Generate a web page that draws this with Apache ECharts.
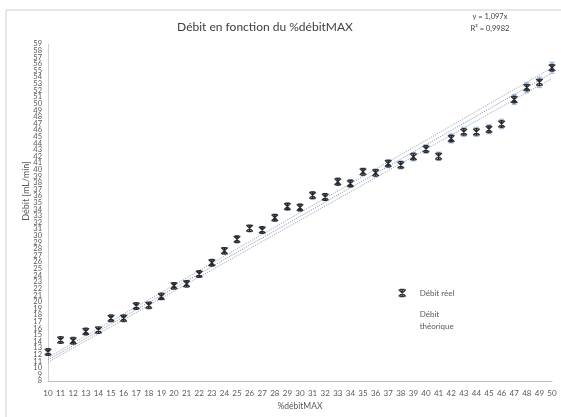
<!DOCTYPE html>
<html>
<head>
<meta charset="utf-8">
<script src="https://cdn.jsdelivr.net/npm/echarts@6/dist/echarts.min.js"></script>
<style>
  html, body { margin: 0; padding: 0; background: #fff; }
  #chart { width: 561px; height: 417px; }
</style>
</head>
<body>
<div id="chart"></div>
<script>
// %débitMAX settings (x axis categories)
const categories = ['10','11','12','13','14','15','16','17','18','19','20','21','22','23','24','25','26','27','28','29','30',
  '31','32','33','34','35','36','37','38','39','40','41','42','43','44','45','46','47','48','49','50'];

// Measured flow (mL/min)
const debitReel = [12.4, 14.2, 14.1, 15.5, 15.7, 17.5, 17.5, 19.35, 19.45, 20.8, 22.4,
  22.7, 24.2, 25.9, 27.7, 29.45, 31.1, 30.85, 32.7, 34.4, 34.25,
  36.1, 35.85, 38.15, 37.9, 39.65, 39.5, 40.9, 40.7, 41.95, 43.1,
  42.0, 44.7, 45.7, 45.7, 46.1, 46.9, 50.6, 52.4, 53.2, 55.4];

// Error bar size, percent of value
const errorPct = 1.5;

// Theoretical flow line and its two bounding lines, values at first and last category
const theorique = [11.2, 54.6];
const theoriqueHaut = [11.55, 55.4];
const theoriqueBas = [10.85, 53.8];

const yTicks = { min: 8, max: 59, interval: 1 };
const equationLines = ['y = 1,097x', 'R² = 0,9982'];

const FONT = 'Lato, "Open Sans", sans-serif';
const chart = echarts.init(document.getElementById('chart'), null, { renderer: 'canvas' });

const lastIdx = categories.length - 1;
const endPoints = arr => [[0, arr[0]], [lastIdx, arr[1]]];

// Excel-style star marker: X crossed by a vertical stroke
const starPath = 'path://M0,0L8,8M8,0L0,8M4,0L4,8M1.5,0L6.5,0M1.5,8L6.5,8';

const yLabelStyle = { fontSize: 7.5, color: '#595959', margin: 6, fontFamily: FONT };

const option = {
  backgroundColor: '#ffffff',
  animation: false,
  textStyle: { fontFamily: FONT },
  graphic: [
    { type: 'rect', shape: { x: 6, y: 10, width: 620, height: 460 },
      style: { fill: 'none', stroke: '#c9ced6', lineWidth: 1 }, silent: true },
    { type: 'text', x: 265, y: 27,
      style: { text: 'Débit en fonction du %débitMAX', font: '12px ' + FONT, fill: '#404040',
               align: 'center', verticalAlign: 'middle' } },
    { type: 'text', x: 490, y: 11,
      style: { text: equationLines.join('\n'), font: '7.5px ' + FONT, fill: '#404040',
               align: 'center', lineHeight: 12 } },
    { type: 'text', x: 26, y: 191, rotation: Math.PI / 2,
      style: { text: 'Débit [mL/min]', font: '9px ' + FONT, fill: '#595959',
               align: 'center', verticalAlign: 'middle' } }
  ],
  legend: {
    orient: 'vertical',
    left: 393, top: 282,
    itemWidth: 7, itemHeight: 7, itemGap: 9,
    textStyle: { fontSize: 8, color: '#595959', fontFamily: FONT, lineHeight: 12, padding: [0, 0, 0, 9] },
    formatter: name => name === 'Débit théorique' ? 'Débit\nthéorique' : name,
    data: [
      { name: 'Débit réel', icon: starPath,
        itemStyle: { color: 'transparent', borderColor: '#000', borderWidth: 1.4 } },
      { name: 'Débit théorique', icon: 'rect', itemStyle: { opacity: 0 } }
    ]
  },
  grid: { left: 48, right: 9, top: 44, bottom: 36, containLabel: false },
  xAxis: {
    type: 'category',
    data: categories,
    boundaryGap: false,
    name: '%débitMAX',
    nameLocation: 'middle',
    nameGap: 20,
    nameTextStyle: { fontSize: 8.5, color: '#595959', fontFamily: FONT },
    axisLine: { lineStyle: { color: '#bfbfbf', width: 1 } },
    axisTick: { show: false },
    axisLabel: { interval: 0, fontSize: 8, color: '#595959', margin: 8, fontFamily: FONT },
    splitLine: { show: false }
  },
  yAxis: [
    {
      // main flow axis: every integer between the bounds
      type: 'value',
      min: yTicks.min, max: yTicks.max, interval: yTicks.interval,
      axisLine: { show: true, lineStyle: { color: '#d0d0d0', width: 1 } },
      axisTick: { show: false },
      axisLabel: Object.assign({ showMinLabel: false, showMaxLabel: false }, yLabelStyle),
      splitLine: { show: false }
    },
    {
      // same scale, carries only the end labels so the neighbouring ones stay visible
      type: 'value', position: 'left',
      min: yTicks.min, max: yTicks.max, interval: yTicks.interval,
      axisLine: { show: false },
      axisTick: { show: false },
      axisLabel: Object.assign({
        showMinLabel: true, showMaxLabel: true,
        formatter: v => (v === yTicks.min || v === yTicks.max) ? String(v) : ''
      }, yLabelStyle),
      splitLine: { show: false }
    }
  ],
  series: [
    {
      name: 'Débit théorique haut', type: 'line', data: endPoints(theoriqueHaut),
      symbol: 'none', silent: true, z: 2,
      lineStyle: { color: '#a6a6a6', width: 1, type: [1.2, 1.2] }
    },
    {
      name: 'Débit théorique bas', type: 'line', data: endPoints(theoriqueBas),
      symbol: 'none', silent: true, z: 2,
      lineStyle: { color: '#a6a6a6', width: 1, type: [1.2, 1.2] }
    },
    {
      name: 'Débit théorique', type: 'line', data: endPoints(theorique),
      symbol: 'none', silent: true, z: 2,
      lineStyle: { color: '#7b9bd0', width: 1, type: [1.2, 1.2] }
    },
    {
      name: 'Barres d\'erreur', type: 'custom', z: 3, silent: true,
      data: debitReel.map((v, i) => [i, v]),
      renderItem: (params, api) => {
        const i = api.value(0), v = api.value(1);
        const d = v * errorPct / 100;
        const top = api.coord([i, v + d]);
        const bot = api.coord([i, v - d]);
        const w = 2.5;
        const st = { stroke: '#9dbde6', lineWidth: 1.2 };
        return {
          type: 'group',
          children: [
            { type: 'line', shape: { x1: top[0], y1: top[1], x2: bot[0], y2: bot[1] }, style: st },
            { type: 'line', shape: { x1: top[0] - w, y1: top[1], x2: top[0] + w, y2: top[1] }, style: st },
            { type: 'line', shape: { x1: bot[0] - w, y1: bot[1], x2: bot[0] + w, y2: bot[1] }, style: st }
          ]
        };
      }
    },
    {
      name: 'Débit réel', type: 'scatter', z: 4,
      data: debitReel,
      symbol: starPath,
      symbolSize: 6.5,
      itemStyle: { color: 'transparent', borderColor: '#000', borderWidth: 1.4 }
    }
  ]
};

chart.setOption(option);
</script>
</body>
</html>
